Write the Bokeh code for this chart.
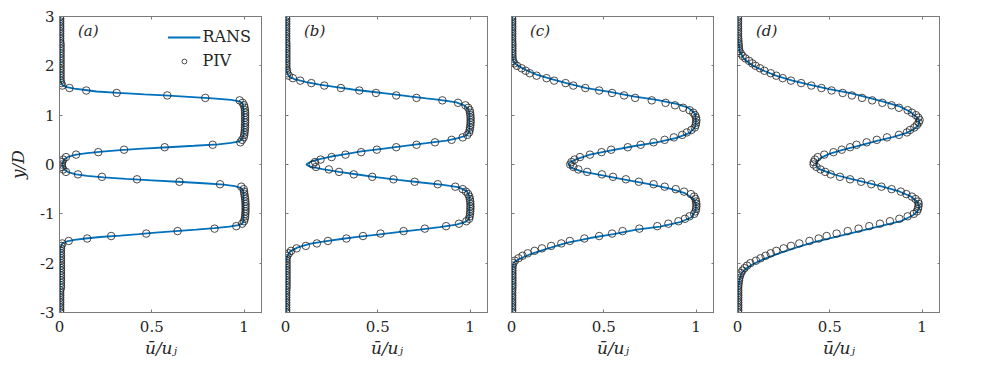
from bokeh.plotting import figure
from bokeh.models import (Range1d, FixedTicker, LinearAxis, Legend, LegendItem,
                          Label, CustomJSTickFormatter)
from bokeh.layouts import row
from bokeh.embed import file_html
from bokeh.resources import INLINE

# ---------------- data ----------------
x_ticks = [0, 0.5, 1]
y_ticks = [-3, -2, -1, 0, 1, 2, 3]
panel_tags = ["(a)", "(b)", "(c)", "(d)"]

# PIV measurement stations y/D
y_piv = [3.00, 2.95, 2.90, 2.85, 2.80, 2.75, 2.70, 2.65, 2.60, 2.55,
         2.50, 2.45, 2.40, 2.35, 2.30, 2.25, 2.20, 2.15, 2.10, 2.05,
         2.00, 1.95, 1.90, 1.85, 1.80, 1.75, 1.70, 1.65, 1.60, 1.55,
         1.50, 1.45, 1.40, 1.35, 1.30, 1.25, 1.20, 1.15, 1.10, 1.05,
         1.00, 0.95, 0.90, 0.85, 0.80, 0.75, 0.70, 0.65, 0.60, 0.55,
         0.50, 0.45, 0.40, 0.35, 0.30, 0.25, 0.20, 0.15, 0.10, 0.05,
         0.00, -0.05, -0.10, -0.15, -0.20, -0.25, -0.30, -0.35, -0.40, -0.45,
         -0.50, -0.55, -0.60, -0.65, -0.70, -0.75, -0.80, -0.85, -0.90, -0.95,
         -1.00, -1.05, -1.10, -1.15, -1.20, -1.25, -1.30, -1.35, -1.40, -1.45,
         -1.50, -1.55, -1.60, -1.65, -1.70, -1.75, -1.80, -1.85, -1.90, -1.95,
         -2.00, -2.05, -2.10, -2.15, -2.20, -2.25, -2.30, -2.35, -2.40, -2.45,
         -2.50, -2.55, -2.60, -2.65, -2.70, -2.75, -2.80, -2.85, -2.90, -2.95,
         -3.00]

u_piv_a = [0.004, 0.004, 0.004, 0.004, 0.004, 0.004, 0.004, 0.004, 0.004, 0.004,
           0.004, 0.006, 0.006, 0.006, 0.006, 0.006, 0.006, 0.006, 0.006, 0.006,
           0.006, 0.006, 0.006, 0.006, 0.006, 0.006, 0.006, 0.009, 0.015, 0.054,
           0.145, 0.31, 0.584, 0.79, 0.976, 0.992, 1.0, 1.003, 1.005, 1.006,
           1.006, 1.006, 1.006, 1.006, 1.005, 1.005, 1.004, 1.003, 1.001, 0.998,
           0.99, 0.98, 0.83, 0.57, 0.35, 0.21, 0.09, 0.035, 0.02, 0.014,
           0.012, 0.014, 0.02, 0.035, 0.10, 0.23, 0.42, 0.65, 0.87, 0.985,
           0.998, 1.0, 1.002, 1.004, 1.006, 1.007, 1.008, 1.008, 1.008, 1.008,
           1.007, 1.006, 1.004, 1.0, 0.99, 0.958, 0.84, 0.64, 0.47, 0.28,
           0.15, 0.05, 0.015, 0.01, 0.008, 0.008, 0.008, 0.008, 0.008, 0.008,
           0.008, 0.008, 0.008, 0.008, 0.008, 0.008, 0.008, 0.008, 0.008, 0.008,
           0.008, 0.004, 0.004, 0.004, 0.004, 0.004, 0.004, 0.004, 0.004, 0.004,
           0.004]

u_piv_b = [0.004, 0.004, 0.004, 0.004, 0.004, 0.004, 0.004, 0.004, 0.004, 0.004,
           0.004, 0.005, 0.005, 0.005, 0.005, 0.005, 0.005, 0.005, 0.005, 0.005,
           0.005, 0.005, 0.008, 0.01, 0.018, 0.04, 0.08, 0.14, 0.21, 0.30,
           0.40, 0.49, 0.60, 0.71, 0.85, 0.935, 0.975, 0.99, 0.998, 1.0,
           1.002, 1.003, 1.003, 1.003, 1.002, 1.0, 0.998, 0.995, 0.985, 0.96,
           0.90, 0.81, 0.71, 0.60, 0.495, 0.41, 0.325, 0.25, 0.19, 0.16,
           0.148, 0.165, 0.235, 0.29, 0.37, 0.47, 0.585, 0.70, 0.825, 0.92,
           0.96, 0.978, 0.99, 0.996, 0.999, 1.001, 1.002, 1.002, 1.002, 1.001,
           1.0, 0.998, 0.995, 0.98, 0.94, 0.87, 0.755, 0.64, 0.515, 0.42,
           0.33, 0.23, 0.17, 0.11, 0.06, 0.03, 0.018, 0.01, 0.006, 0.006,
           0.006, 0.006, 0.006, 0.006, 0.006, 0.006, 0.006, 0.006, 0.006, 0.006,
           0.006, 0.004, 0.004, 0.004, 0.004, 0.004, 0.004, 0.004, 0.004, 0.004,
           0.004]

u_piv_c = [0.004, 0.004, 0.004, 0.004, 0.004, 0.004, 0.004, 0.004, 0.004, 0.004,
           0.004, 0.005, 0.005, 0.005, 0.005, 0.005, 0.005, 0.006, 0.008, 0.015,
           0.03, 0.055, 0.077, 0.099, 0.136, 0.19, 0.231, 0.293, 0.335, 0.40,
           0.475, 0.545, 0.61, 0.67, 0.76, 0.835, 0.886, 0.93, 0.965, 0.985,
           0.995, 1.0, 1.002, 1.0, 0.998, 0.993, 0.975, 0.95, 0.925, 0.88,
           0.83, 0.77, 0.70, 0.63, 0.54, 0.488, 0.425, 0.371, 0.342, 0.325,
           0.318, 0.335, 0.362, 0.41, 0.49, 0.55, 0.62, 0.69, 0.77, 0.83,
           0.89, 0.935, 0.972, 0.99, 0.997, 1.0, 1.002, 1.002, 1.0, 0.997,
           0.99, 0.965, 0.94, 0.905, 0.85, 0.79, 0.693, 0.602, 0.545, 0.475,
           0.395, 0.316, 0.27, 0.215, 0.165, 0.125, 0.088, 0.06, 0.038, 0.018,
           0.01, 0.006, 0.005, 0.005, 0.005, 0.005, 0.005, 0.005, 0.005, 0.005,
           0.005, 0.004, 0.004, 0.004, 0.004, 0.004, 0.004, 0.004, 0.004, 0.004,
           0.004]

u_piv_d = [0.003, 0.003, 0.003, 0.003, 0.003, 0.003, 0.003, 0.003, 0.003, 0.004,
           0.005, 0.006, 0.007, 0.008, 0.01, 0.018, 0.028, 0.043, 0.063, 0.08,
           0.098, 0.122, 0.146, 0.18, 0.21, 0.245, 0.29, 0.345, 0.40, 0.455,
           0.51, 0.57, 0.62, 0.675, 0.73, 0.785, 0.835, 0.875, 0.922, 0.945,
           0.967, 0.98, 0.987, 0.982, 0.972, 0.958, 0.935, 0.918, 0.875, 0.81,
           0.755, 0.70, 0.645, 0.61, 0.565, 0.52, 0.47, 0.435, 0.42, 0.413,
           0.412, 0.428, 0.45, 0.475, 0.505, 0.555, 0.61, 0.67, 0.725, 0.78,
           0.835, 0.885, 0.915, 0.945, 0.965, 0.978, 0.982, 0.98, 0.978, 0.972,
           0.955, 0.922, 0.877, 0.826, 0.772, 0.714, 0.656, 0.597, 0.537, 0.483,
           0.44, 0.39, 0.335, 0.29, 0.25, 0.21, 0.18, 0.152, 0.125, 0.10,
           0.07, 0.052, 0.038, 0.027, 0.019, 0.014, 0.01, 0.008, 0.006, 0.005,
           0.004, 0.004, 0.004, 0.004, 0.004, 0.004, 0.004, 0.004, 0.004, 0.004,
           0.004]

# RANS profiles
y_rans_a = [3.0, 1.72, 1.64, 1.60, 1.57, 1.54, 1.51, 1.48, 1.45, 1.42,
            1.40, 1.37, 1.34, 1.31, 1.28, 1.24, 1.10, 0.60, 0.52, 0.47,
            0.44, 0.41, 0.38, 0.35, 0.32, 0.29, 0.26, 0.23, 0.20, 0.16,
            0.10, 0.0, -0.10, -0.16, -0.20, -0.23, -0.26, -0.29, -0.32, -0.35,
            -0.38, -0.41, -0.44, -0.48, -0.55, -1.15, -1.20, -1.23, -1.26, -1.29,
            -1.32, -1.35, -1.38, -1.41, -1.44, -1.47, -1.50, -1.53, -1.56, -1.60,
            -1.70, -3.0]
u_rans_a = [0.002, 0.003, 0.01, 0.02, 0.04, 0.08, 0.14, 0.20, 0.32, 0.46,
            0.57, 0.70, 0.83, 0.93, 0.975, 0.992, 0.998, 0.998, 0.99, 0.975,
            0.93, 0.86, 0.73, 0.59, 0.45, 0.33, 0.23, 0.15, 0.09, 0.05,
            0.025, 0.015, 0.025, 0.05, 0.09, 0.15, 0.24, 0.36, 0.50, 0.64,
            0.78, 0.89, 0.95, 0.985, 0.997, 0.997, 0.99, 0.97, 0.92, 0.84,
            0.74, 0.63, 0.52, 0.43, 0.33, 0.22, 0.14, 0.08, 0.04, 0.015,
            0.004, 0.002]

y_rans_b = [3.0, 2.0, 1.90, 1.82, 1.77, 1.73, 1.67, 1.62, 1.57, 1.52,
            1.48, 1.43, 1.38, 1.34, 1.31, 1.26, 1.20, 1.13, 1.05, 0.70,
            0.655, 0.588, 0.534, 0.486, 0.432, 0.372, 0.318, 0.264, 0.209, 0.162,
            0.108, 0.061, 0.0, -0.04, -0.095, -0.149, -0.203, -0.257, -0.311, -0.365,
            -0.412, -0.459, -0.54, -0.662, -1.05, -1.12, -1.17, -1.22, -1.27, -1.32,
            -1.37, -1.42, -1.46, -1.51, -1.56, -1.61, -1.68, -1.76, -1.88, -2.0,
            -3.0]
u_rans_b = [0.003, 0.004, 0.006, 0.013, 0.025, 0.049, 0.112, 0.184, 0.275, 0.365,
            0.456, 0.564, 0.673, 0.763, 0.835, 0.926, 0.967, 0.989, 0.997, 0.997,
            0.995, 0.98, 0.935, 0.872, 0.763, 0.637, 0.523, 0.41, 0.325, 0.248,
            0.184, 0.139, 0.112, 0.13, 0.20, 0.29, 0.39, 0.49, 0.61, 0.736,
            0.854, 0.935, 0.983, 0.997, 0.997, 0.99, 0.971, 0.926, 0.835, 0.727,
            0.609, 0.50, 0.40, 0.302, 0.212, 0.13, 0.067, 0.025, 0.007, 0.004,
            0.003]

y_rans_c = [3.0, 2.25, 2.18, 2.07, 2.0, 1.91, 1.82, 1.74, 1.65, 1.55,
            1.47, 1.38, 1.31, 1.23, 1.15, 1.03, 0.89, 0.76, 0.64, 0.54,
            0.45, 0.37, 0.28, 0.20, 0.11, 0.04, 0.0, -0.07, -0.14, -0.21,
            -0.30, -0.39, -0.49, -0.58, -0.70, -0.80, -0.93, -1.07, -1.17, -1.26,
            -1.32, -1.41, -1.49, -1.59, -1.71, -1.81, -1.91, -1.98, -2.08, -3.0]
u_rans_c = [0.003, 0.003, 0.005, 0.012, 0.036, 0.081, 0.136, 0.208, 0.298, 0.407,
            0.533, 0.66, 0.787, 0.895, 0.958, 0.995, 1.0, 0.995, 0.967, 0.895,
            0.787, 0.66, 0.533, 0.425, 0.353, 0.316, 0.307, 0.325, 0.38, 0.479,
            0.606, 0.732, 0.859, 0.94, 0.986, 1.0, 0.998, 0.976, 0.913, 0.805,
            0.678, 0.552, 0.425, 0.298, 0.19, 0.108, 0.045, 0.013, 0.004, 0.003]

y_rans_d = [3.0, 2.6, 2.51, 2.28, 2.14, 2.01, 1.91, 1.80, 1.70, 1.62,
            1.53, 1.45, 1.35, 1.26, 1.18, 1.08, 0.96, 0.88, 0.80, 0.723,
            0.635, 0.554, 0.473, 0.385, 0.297, 0.216, 0.135, 0.047, -0.02, -0.088,
            -0.155, -0.223, -0.291, -0.372, -0.459, -0.547, -0.649, -0.764, -0.865, -0.95,
            -1.035, -1.15, -1.236, -1.324, -1.405, -1.486, -1.574, -1.676, -1.791, -1.912,
            -2.027, -2.115, -2.203, -2.318, -2.486, -3.0]
u_rans_d = [0.002, 0.002, 0.004, 0.013, 0.036, 0.081, 0.136, 0.208, 0.298, 0.389,
            0.497, 0.606, 0.714, 0.805, 0.877, 0.931, 0.972, 0.985, 0.982, 0.958,
            0.913, 0.841, 0.750, 0.660, 0.570, 0.497, 0.452, 0.428, 0.426, 0.44,
            0.488, 0.542, 0.615, 0.705, 0.796, 0.877, 0.940, 0.976, 0.985, 0.975,
            0.949, 0.885, 0.79, 0.69, 0.60, 0.51, 0.415, 0.325, 0.232, 0.145,
            0.08, 0.045, 0.022, 0.011, 0.004, 0.002]

rans_u = [u_rans_a, u_rans_b, u_rans_c, u_rans_d]
rans_y = [y_rans_a, y_rans_b, y_rans_c, y_rans_d]
piv_u = [u_piv_a, u_piv_b, u_piv_c, u_piv_d]

# ---------------- style ----------------
FONT = "DejaVu Serif"
TXT = "#262626"
AXC = "#7a7a7a"
BLUE = "#0072BD"

num_fmt = CustomJSTickFormatter(code="return tick.toString()")


def blank_axis_style(ax):
    ax.formatter = CustomJSTickFormatter(code="return ''")
    ax.major_label_text_font_size = "0px"
    ax.major_label_standoff = 0
    ax.major_tick_in = 3
    ax.major_tick_out = 0
    ax.minor_tick_line_color = None
    ax.axis_line_color = AXC
    ax.major_tick_line_color = AXC


def label_axis_style(ax):
    ax.formatter = num_fmt
    ax.major_label_text_font = FONT
    ax.major_label_text_font_size = "15px"
    ax.major_label_text_color = TXT
    ax.major_tick_in = 3
    ax.major_tick_out = 0
    ax.minor_tick_line_color = None
    ax.axis_line_color = AXC
    ax.major_tick_line_color = AXC
    ax.axis_label_text_font = FONT
    ax.axis_label_text_font_style = "italic"
    ax.axis_label_text_font_size = "17px"
    ax.axis_label_text_color = TXT


figs = []
for k in range(4):
    first = (k == 0)
    p = figure(frame_width=203, frame_height=296,
               x_range=Range1d(0, 1.1), y_range=Range1d(-3, 3),
               output_backend="svg", toolbar_location=None,
               min_border_left=59 if first else 23, min_border_right=0,
               min_border_top=16, min_border_bottom=0,
               outline_line_color=AXC, outline_line_width=1,
               background_fill_color="white", border_fill_color="white")
    p.grid.visible = False

    xa = p.xaxis[0]
    xa.ticker = FixedTicker(ticks=x_ticks)
    label_axis_style(xa)
    xa.major_label_standoff = 8
    xa.axis_label = "ū/uⱼ"
    xa.axis_label_standoff = 3

    ya = p.yaxis[0]
    ya.ticker = FixedTicker(ticks=y_ticks)
    if first:
        label_axis_style(ya)
        ya.major_label_standoff = 5
        ya.axis_label = "y/D"
        ya.axis_label_standoff = 9
    else:
        blank_axis_style(ya)

    ra = LinearAxis(ticker=FixedTicker(ticks=y_ticks))
    blank_axis_style(ra)
    p.add_layout(ra, "right")
    ta = LinearAxis(ticker=FixedTicker(ticks=x_ticks))
    blank_axis_style(ta)
    p.add_layout(ta, "above")

    lr = p.line(rans_u[k], rans_y[k], line_color=BLUE, line_width=1.8)
    sr = p.scatter(piv_u[k], y_piv, marker="circle", size=7.5,
                   fill_color=None, line_color="#1f1f1f", line_width=0.8)

    p.add_layout(Label(x=0.1, y=2.52, text=panel_tags[k], text_font=FONT,
                       text_font_style="italic", text_font_size="15px",
                       text_color=TXT))

    if first:
        leg = Legend(items=[LegendItem(label="RANS", renderers=[lr]),
                            LegendItem(label="PIV", renderers=[sr])],
                     location="top_right", margin=11, padding=8,
                     glyph_width=33, glyph_height=12, label_height=16,
                     label_standoff=2, spacing=5,
                     label_text_font=FONT, label_text_font_size="16px",
                     label_text_color=TXT,
                     border_line_color=None, background_fill_alpha=0)
        p.add_layout(leg)
    figs.append(p)

layout = row(*figs)
open("out.html", "w").write(file_html(layout, INLINE, title="profiles"))
